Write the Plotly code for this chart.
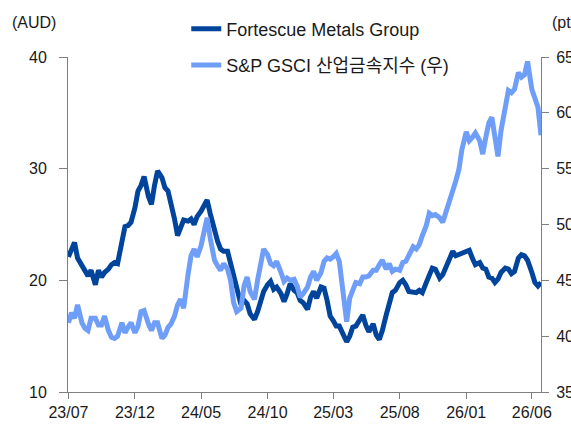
import plotly.graph_objects as go

# Weekly-ish observation dates (1st, 8th, 15th, 22nd of each month)
dates = [
    "2023-07-01","2023-07-08","2023-07-15","2023-07-22",
    "2023-08-01","2023-08-08","2023-08-15","2023-08-22",
    "2023-09-01","2023-09-08","2023-09-15","2023-09-22",
    "2023-10-01","2023-10-08","2023-10-15","2023-10-22",
    "2023-11-01","2023-11-08","2023-11-15","2023-11-22",
    "2023-12-01","2023-12-08","2023-12-15","2023-12-22",
    "2024-01-01","2024-01-08","2024-01-15","2024-01-22",
    "2024-02-01","2024-02-08","2024-02-15","2024-02-22",
    "2024-03-01","2024-03-08","2024-03-15","2024-03-22",
    "2024-04-01","2024-04-08","2024-04-15","2024-04-22",
    "2024-05-01","2024-05-08","2024-05-15","2024-05-22",
    "2024-06-01","2024-06-08","2024-06-15","2024-06-22",
    "2024-07-01","2024-07-08","2024-07-15","2024-07-22",
    "2024-08-01","2024-08-08","2024-08-15","2024-08-22",
    "2024-09-01","2024-09-08","2024-09-15","2024-09-22",
    "2024-10-01","2024-10-08","2024-10-15","2024-10-22",
    "2024-11-01","2024-11-08","2024-11-15","2024-11-22",
    "2024-12-01","2024-12-08","2024-12-15","2024-12-22",
    "2025-01-01","2025-01-08","2025-01-15","2025-01-22",
    "2025-02-01","2025-02-08","2025-02-15","2025-02-22",
    "2025-03-01","2025-03-08","2025-03-15","2025-03-22",
    "2025-04-01","2025-04-08","2025-04-15","2025-04-22",
    "2025-05-01","2025-05-08","2025-05-15","2025-05-22",
    "2025-06-01","2025-06-08","2025-06-15","2025-06-22",
    "2025-07-01","2025-07-08","2025-07-15","2025-07-22",
    "2025-08-01","2025-08-08","2025-08-15","2025-08-22",
    "2025-09-01","2025-09-08","2025-09-15","2025-09-22",
    "2025-10-01","2025-10-08","2025-10-15","2025-10-22",
    "2025-11-01","2025-11-08","2025-11-15","2025-11-22",
    "2025-12-01","2025-12-08","2025-12-15","2025-12-22",
    "2026-01-01","2026-01-08","2026-01-15","2026-01-22",
    "2026-02-01","2026-02-08","2026-02-15","2026-02-22",
    "2026-03-01","2026-03-08","2026-03-15","2026-03-22",
    "2026-04-01","2026-04-08","2026-04-15","2026-04-22",
    "2026-05-01","2026-05-08","2026-05-15","2026-05-22",
    "2026-06-01","2026-06-08","2026-06-15","2026-06-22",
]

# Fortescue Metals Group share price (AUD, left axis)
fmg = [
    22.1, 22.7, 23.4, 22.0,
    21.3, 21.0, 20.4, 20.9,
    19.6, 20.9, 20.3, 20.7,
    21.0, 21.4, 21.6, 21.5,
    23.4, 24.8, 24.9, 25.2,
    26.5, 28.0, 28.5, 29.3,
    27.5, 26.8, 28.5, 29.8,
    29.2, 28.3, 28.0, 27.0,
    25.5, 24.0, 24.8, 25.4,
    25.3, 25.5, 25.0, 25.7,
    26.2, 26.8, 27.2, 26.0,
    24.4, 23.5, 22.8, 22.6,
    22.6, 21.6, 20.2, 19.2,
    17.8, 18.2, 17.9, 17.0,
    16.5, 17.2, 18.0, 19.0,
    19.6, 19.9, 19.2, 19.4,
    18.8, 18.1, 18.8, 19.7,
    19.1, 18.9, 18.2, 18.0,
    17.4, 18.5, 19.0, 18.4,
    19.4, 19.3, 18.2, 16.8,
    16.4, 15.9, 15.9, 15.2,
    14.5, 15.0, 15.8, 15.9,
    16.5, 16.9, 16.0, 15.4,
    16.1, 15.1, 14.7, 15.5,
    16.9, 17.9, 18.9, 19.1,
    19.8, 20.0, 19.6, 19.0,
    18.9, 18.9, 19.1, 18.9,
    19.8, 20.5, 21.1, 21.0,
    20.2, 20.5, 21.1, 21.7,
    22.6, 22.2, 22.3, 22.4,
    22.6, 22.7, 22.0, 21.4,
    21.6, 21.1, 21.0, 20.3,
    20.2, 19.8, 20.1, 20.7,
    21.1, 21.0, 20.6, 20.8,
    22.0, 22.3, 22.2, 21.8,
    20.7, 19.8, 19.5, 19.8,
]

# S&P GSCI Industrial Metals index (pt, right axis)
gsci = [
    41.2, 42.1, 41.6, 42.8,
    41.2, 40.7, 40.5, 41.6,
    41.6, 41.0, 41.0, 41.8,
    40.5, 39.9, 39.8, 40.0,
    41.2, 40.3, 40.8, 41.2,
    40.3, 40.9, 42.2, 42.3,
    41.1, 40.5, 41.2, 41.2,
    39.8, 40.1, 40.8, 41.1,
    41.8, 42.8, 43.3, 42.5,
    45.5, 47.2, 47.8, 47.1,
    48.1, 49.5, 50.6, 48.8,
    46.8, 46.3, 45.9, 46.5,
    46.0, 45.0, 43.0, 42.2,
    42.5, 44.5, 45.3, 44.0,
    43.3, 45.0, 46.3, 47.8,
    47.3, 46.5, 46.3, 46.7,
    45.7, 44.9, 45.2, 45.0,
    45.1, 44.5, 43.5, 43.8,
    44.4, 45.3, 45.8, 45.0,
    45.7, 46.7, 47.0, 46.9,
    47.1, 47.4, 46.7, 44.3,
    41.3, 43.4, 44.1, 44.8,
    44.7, 45.3, 45.3, 45.4,
    45.9, 45.9, 46.4, 46.8,
    46.0, 46.5, 45.8, 46.0,
    45.9, 46.6, 46.7, 47.2,
    48.0, 47.8, 48.2, 49.0,
    49.9, 51.0, 50.8, 50.9,
    50.6, 50.2, 51.0, 52.0,
    53.0, 53.9, 54.9, 56.7,
    58.3, 57.5, 57.8, 58.2,
    57.5, 56.3, 57.8, 59.1,
    59.6, 57.5, 56.1, 58.4,
    60.6, 62.0, 61.8, 62.1,
    63.6, 63.2, 63.4, 64.6,
    62.1, 61.4, 60.5, 58.0,
]

tick_dates = ["2023-07-01", "2023-12-01", "2024-05-01", "2024-10-01",
              "2025-03-01", "2025-08-01", "2026-01-01", "2026-06-01"]
tick_labels = ["23/07", "23/12", "24/05", "24/10", "25/03", "25/08", "26/01", "26/06"]

series_names = ["Fortescue Metals Group", "S&P GSCI 산업금속지수 (우)"]

FONT = "Liberation Sans, Arial, Noto Sans CJK KR, sans-serif"
DARK = "#00449C"
LIGHT = "#6E9EF7"
AXIS = "#7F7F7F"
TXT = "#1a1a1a"

fig = go.Figure()
fig.add_trace(go.Scatter(
    x=dates, y=fmg, name=series_names[0], mode="lines",
    line=dict(color=DARK, width=5), legendgroup="a", yaxis="y"))
fig.add_trace(go.Scatter(
    x=dates, y=gsci, name=series_names[1], mode="lines",
    line=dict(color=LIGHT, width=5), legendgroup="b", yaxis="y2"))

fig.update_layout(
    width=571, height=426,
    margin=dict(l=68, r=30, t=57, b=34, autoexpand=False),
    paper_bgcolor="white", plot_bgcolor="white",
    font=dict(family=FONT, size=16, color=TXT),
    showlegend=True,
    legend=dict(
        x=0.25, y=1.139, xanchor="left", yanchor="top",
        bgcolor="rgba(0,0,0,0)", tracegroupgap=10,
        font=dict(family=FONT, size=18, color=TXT),
        itemwidth=30,
    ),
    xaxis=dict(
        type="date", range=["2023-06-30", "2026-06-22"],
        tickmode="array", tickvals=tick_dates, ticktext=tick_labels,
        ticks="outside", ticklen=6, tickcolor=AXIS, tickwidth=1,
        showline=True, linecolor=AXIS, linewidth=1,
        showgrid=False, zeroline=False,
        tickfont=dict(family=FONT, size=16, color=TXT),
    ),
    yaxis=dict(
        range=[10, 40], dtick=10, tick0=10,
        ticks="outside", ticklen=8, tickcolor=AXIS, tickwidth=1,
        showline=True, linecolor=AXIS, linewidth=1,
        showgrid=False, zeroline=False, ticklabelstandoff=9,
        tickfont=dict(family=FONT, size=16, color=TXT),
    ),
    yaxis2=dict(
        range=[35, 65], dtick=5, tick0=35,
        overlaying="y", side="right", anchor="x",
        ticks="outside", ticklen=7, tickcolor=AXIS, tickwidth=1,
        showline=True, linecolor=AXIS, linewidth=1,
        showgrid=False, zeroline=False, ticklabelstandoff=4,
        tickfont=dict(family=FONT, size=16, color=TXT),
    ),
    annotations=[
        dict(text="(AUD)", xref="paper", yref="paper", x=-0.123, y=1.072,
             xanchor="left", yanchor="bottom", showarrow=False,
             font=dict(family=FONT, size=16, color=TXT)),
        dict(text="(pt)", xref="paper", yref="paper", x=1.02, y=1.072,
             xanchor="left", yanchor="bottom", showarrow=False,
             font=dict(family=FONT, size=16, color=TXT)),
    ],
)

fig.write_html(
    "out.html",
    config={"displayModeBar": False},
    post_script="document.body.style.margin='0';document.body.style.padding='0';",
)
